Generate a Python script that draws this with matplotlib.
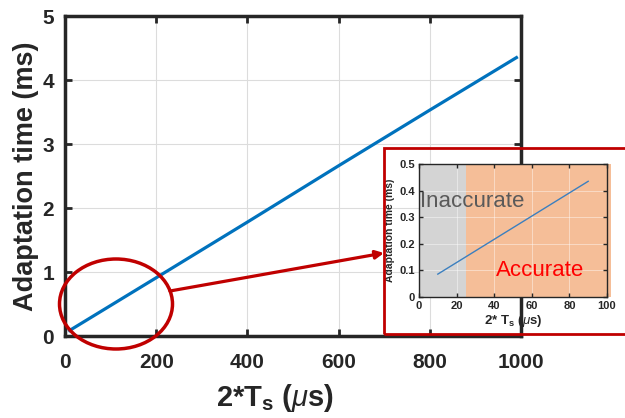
import matplotlib.pyplot as plt
from matplotlib.patches import Ellipse, Rectangle, FancyArrowPatch

plt.rcParams['font.family'] = ['Liberation Sans', 'DejaVu Sans']
plt.rcParams['mathtext.fontset'] = 'custom'
plt.rcParams['mathtext.rm'] = 'Liberation Sans:bold'
plt.rcParams['mathtext.it'] = 'Liberation Sans:italic'
plt.rcParams['mathtext.bf'] = 'Liberation Sans:bold'

# sampling period (2*Ts, us) vs adaptation time (ms)
ts = [10, 200, 400, 600, 800, 990]
t_adapt = [0.086, 0.91, 1.78, 2.66, 3.53, 4.35]

# zoomed region
ts_zoom = [10, 90]
t_adapt_zoom = [0.086, 0.435]
inaccurate_limit = 25

dark = '#262626'
red = '#c00000'
blue = '#0072bd'

fig = plt.figure(figsize=(6.25, 4.18), dpi=100)
W, H = 625, 418

def fx(px):
    return px / W

def fy(py):
    return 1 - py / H

# main axes
ax = fig.add_axes([fx(65), fy(336), fx(521) - fx(65), fy(16) - fy(336)])
ax.plot(ts, t_adapt, color=blue, lw=2.3)
ax.set_xlim(0, 1000)
ax.set_ylim(0, 5)
ax.set_xticks([0, 200, 400, 600, 800, 1000])
ax.set_yticks([0, 1, 2, 3, 4, 5])
ax.grid(True, color='#dcdcdc', lw=0.8)
ax.set_axisbelow(True)
for s in ax.spines.values():
    s.set_linewidth(2.5)
    s.set_color(dark)
ax.tick_params(direction='in', length=5, width=2, color=dark,
               top=True, right=True, labelsize=15, labelcolor=dark)
ax.tick_params(axis='x', pad=12)
ax.tick_params(axis='y', pad=8)
for lab in ax.get_xticklabels() + ax.get_yticklabels():
    lab.set_fontweight('bold')
ax.set_ylabel('Adaptation time (ms)', fontsize=19.5, fontweight='bold',
              color=dark, labelpad=2)
ax.set_xlabel(r'2*T$_\mathrm{s}$ ($\mathit{\mu}$s)', fontsize=21,
              fontweight='bold', color=dark)
ax.xaxis.set_label_coords(0.46, -0.145)

# inset axes
ins = fig.add_axes([fx(419), fy(297), fx(607) - fx(419), fy(164) - fy(297)])
ins.set_zorder(5)
ins.axvspan(0, inaccurate_limit, color='#d4d4d4', lw=0)
ins.axvspan(inaccurate_limit, 102, color='#f5be98', lw=0, clip_on=False)
ins.plot(ts_zoom, t_adapt_zoom, color='#3b7fbf', lw=1)
ins.set_xlim(0, 100)
ins.set_ylim(0, 0.5)
ins.set_xticks([0, 20, 40, 60, 80, 100])
ins.set_yticks([0, 0.1, 0.2, 0.3, 0.4, 0.5])
ins.set_yticklabels(['0', '0.1', '0.2', '0.3', '0.4', '0.5'])
ins.grid(True, color='white', lw=0.6, alpha=0.5)
for s in ins.spines.values():
    s.set_linewidth(1)
    s.set_color(dark)
ins.tick_params(direction='in', length=3, width=1, color=dark,
                top=True, right=True, labelsize=8, labelcolor=dark, pad=3)
for lab in ins.get_xticklabels() + ins.get_yticklabels():
    lab.set_fontweight('bold')
ins.set_ylabel('Adaptation time (ms)', fontsize=7.5, fontweight='bold',
               color=dark, labelpad=3)
ins.set_xlabel(r'2* T$_\mathrm{s}$ ($\mathit{\mu}$s)', fontsize=9.5,
               fontweight='bold', color=dark, labelpad=1)
ins.text(0.7, 0.34, 'Inaccurate', fontsize=16, color='#5a5a5a')
ins.text(41, 0.078, 'Accurate', fontsize=16, color='#ff0000')

# highlight: ellipse, arrow, frame round the inset
fig.add_artist(Ellipse((fx(116), fy(304)), fx(113), 90 / H,
                       transform=fig.transFigure, fill=False,
                       edgecolor=red, lw=2.5, zorder=10))
fig.add_artist(FancyArrowPatch((fx(170), fy(291)), (fx(384), fy(253)),
                               transform=fig.transFigure, arrowstyle='-|>',
                               mutation_scale=12, color=red, lw=2.3,
                               shrinkA=0, shrinkB=0, zorder=10))
fig.add_artist(Rectangle((fx(384), fy(334)), fx(627) - fx(384),
                         fy(148) - fy(334), transform=fig.transFigure,
                         fill=False, edgecolor=red, lw=2, zorder=10))

fig.savefig('out.png', dpi=100)
